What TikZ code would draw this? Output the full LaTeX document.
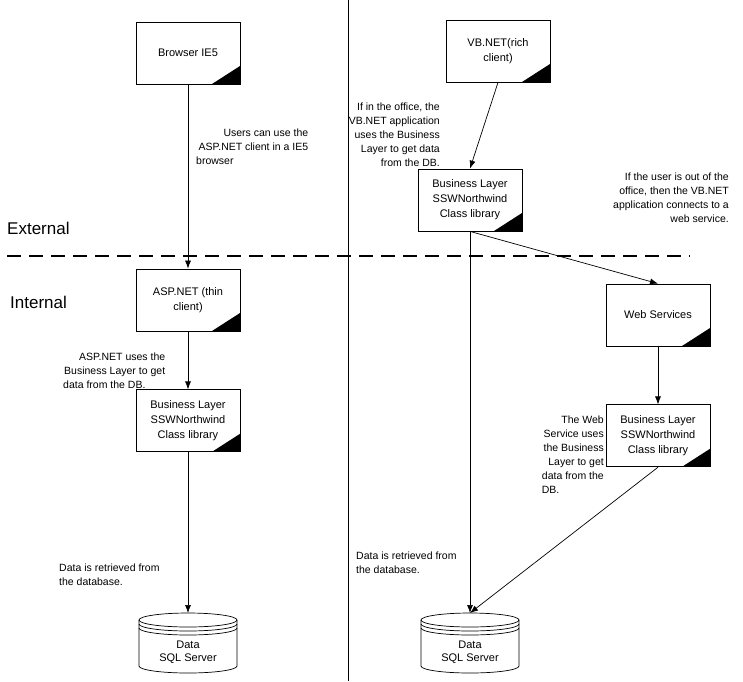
\documentclass[tikz,border=0pt]{standalone}
\usepackage{fontspec}
\setmainfont{Liberation Sans}
\usetikzlibrary{arrows.meta,positioning}
\tikzset{
  unit/.style={rectangle, draw=black, line width=0.8pt, minimum width=104pt, minimum height=62pt, align=center, inner sep=2pt, font=\fontsize{11}{15}\selectfont,
    path picture={\fill[black] (path picture bounding box.south east) -- ++(-28pt,0pt) -- ++(28pt,18pt) -- cycle;}},
  store/.style={rectangle, inner sep=0pt, align=center, font=\fontsize{11}{13.5}\selectfont},
  note/.style={inner sep=0pt, font=\fontsize{10.5}{14}\selectfont},
  zone/.style={inner sep=0pt, anchor=west, font=\fontsize{17}{20}\selectfont},
  arrow/.style={-{Latex[length=8pt,width=6pt]}, line width=0.7pt, draw=black},
  drumline/.style={line width=0.7pt, draw=black}
}
% drum outline around a store node (top of drum 39pt above its centre)
\newcommand{\drum}[1]{%
  \draw[drumline] ([shift={(-49pt,32pt)}]#1.center) -- ([shift={(-49pt,-14pt)}]#1.center)
    arc[start angle=180, end angle=360, x radius=49pt, y radius=7pt] -- ([shift={(49pt,32pt)}]#1.center);
  \draw[drumline] ([shift={(0pt,32pt)}]#1.center) ellipse[x radius=49pt, y radius=7pt];
  \draw[drumline] ([shift={(-49pt,28pt)}]#1.center) arc[start angle=180, end angle=360, x radius=49pt, y radius=7pt];
  \draw[drumline] ([shift={(-49pt,24pt)}]#1.center) arc[start angle=180, end angle=360, x radius=49pt, y radius=7pt];
  \coordinate (#1top) at ([yshift=39pt]#1.center);
}

\begin{document}
\begin{tikzpicture}[x=1pt, y=-1pt]
  \useasboundingbox (0,0) rectangle (743,681);
  % zones
  \draw[line width=0.9pt] (348,0) -- (348,681);
  \draw[line width=2.2pt, dash pattern=on 14pt off 8pt] (7,256) -- (690,256);
  \node[zone] (ext) at (7,228) {External};
  \node[zone] (int) at (10,302) {Internal};

  % thin client side
  \node[unit] (ie) at (188,53) {Browser IE5};
  \node[unit] (asp) at (188,300) {ASP.NET (thin\\client)};
  \node[unit, below=58pt of asp] (blA) {Business Layer\\SSWNorthwind\\Class library};
  \node[store] (dbA) at (188,652) {Data\\SQL Server};
  \drum{dbA}

  % rich client side
  \node[unit] (vb) at (498,51) {VB.NET(rich\\client)};
  \node[unit] (blB) at (470,200) {Business Layer\\SSWNorthwind\\Class library};
  \node[unit] (ws) at (658,315) {Web Services};
  \node[unit, below=58pt of ws] (blC) {Business Layer\\SSWNorthwind\\Class library};
  \node[store] (dbB) at (470,652) {Data\\SQL Server};
  \drum{dbB}

  % notes
  \node[note, anchor=north west, text width=112pt, align=flush right] (nA) at (196,129) {Users can use the\\ASP.NET client in a IE5\\browser\hfill\null};
  \node[note, anchor=north east, align=right] (nB) at (440,103) {If in the office, the\\VB.NET application\\uses the Business\\Layer to get data\\from the DB.};
  \node[note, anchor=north west, text width=102pt, align=flush right] (nC) at (63,353) {ASP.NET uses the\\Business Layer to get\\data from the DB.\hfill\null};
  \node[note, anchor=north west, align=left] (nD) at (59,564) {Data is retrieved from\\the database.};
  \node[note, anchor=north west, align=left] (nE) at (356,552) {Data is retrieved from\\the database.};
  \node[note, anchor=north east, align=right] (nF) at (729,173) {If the user is out of the\\office, then the VB.NET\\application connects to a\\web service.};
  \node[note, anchor=north east, text width=62pt, align=flush right] (nG) at (604,416) {The Web\\Service uses\\the Business\\Layer to get\\data from the\\DB.\hfill\null};

  % connectors
  \draw[arrow] (ie) -- (asp);
  \draw[arrow] (asp) -- (blA);
  \draw[arrow] (blA) -- (dbAtop);
  \draw[arrow] (vb.south) -- (blB.north);
  \draw[arrow] (blB.south) -- (dbBtop);
  \draw[arrow] (blB.south) -- (ws.north);
  \draw[arrow] (ws) -- (blC);
  \draw[arrow] (blC.south) -- (dbBtop);
\end{tikzpicture}
\end{document}
